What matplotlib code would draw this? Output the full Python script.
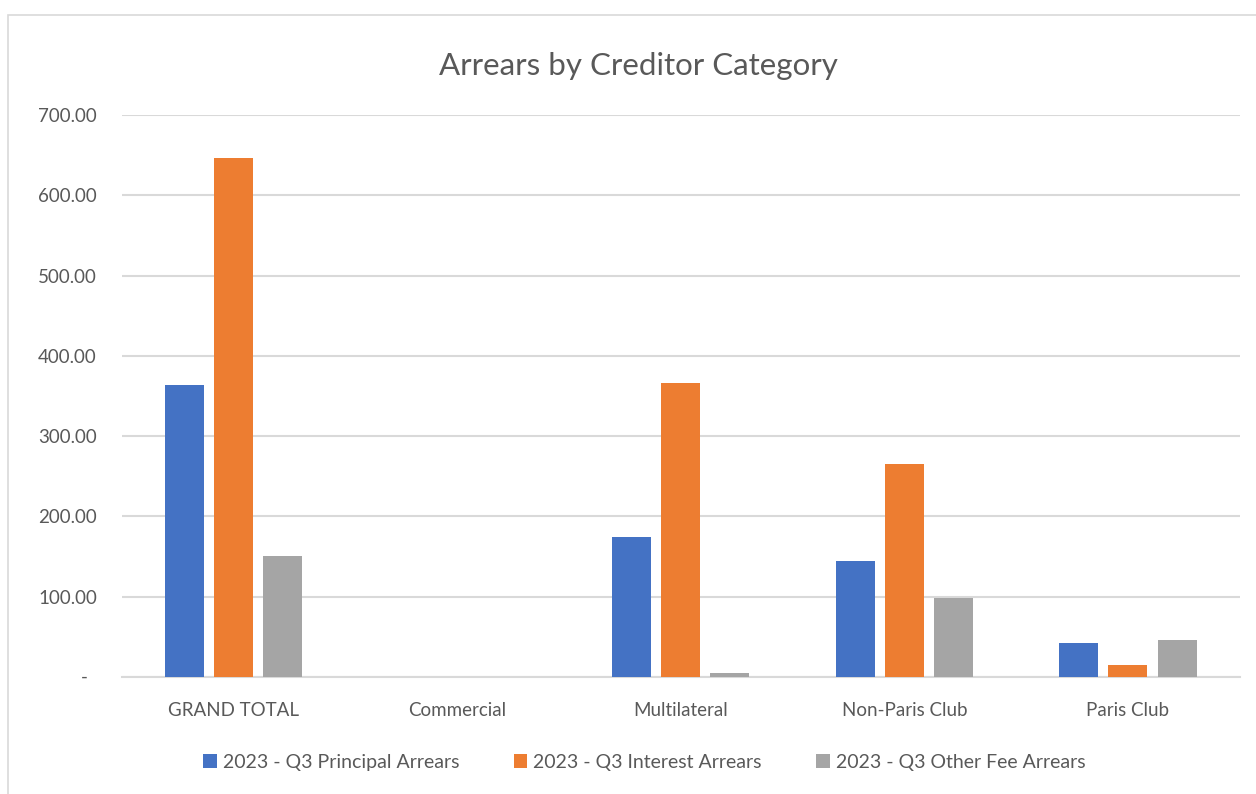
import matplotlib
matplotlib.use("Agg")
import matplotlib.pyplot as plt
import numpy as np
from matplotlib.patches import Rectangle

categories = ["GRAND TOTAL", "Commercial", "Multilateral", "Non-Paris Club", "Paris Club"]
series_names = ["2023 - Q3 Principal Arrears", "2023 - Q3 Interest Arrears", "2023 - Q3 Other Fee Arrears"]
principal = [364.0, 0.0, 174.5, 145.0, 42.5]
interest = [646.0, 0.0, 366.0, 265.0, 15.5]
other_fee = [151.0, 0.0, 5.5, 99.0, 45.5]
colors = ["#4472C4", "#ED7D31", "#A5A5A5"]
yticks = [0, 100, 200, 300, 400, 500, 600, 700]
ytick_labels = ["", "100.00", "200.00", "300.00", "400.00", "500.00", "600.00", "700.00"]
zero_label = "-"

plt.rcParams['font.family'] = ['Lato', 'DejaVu Sans']

fig = plt.figure(figsize=(12.56, 7.94), dpi=100)
ax = fig.add_axes([0.097, 0.1474, 0.890, 0.7076])

x = np.arange(len(categories))
width = 0.175
offsets = [-0.22, 0.0, 0.22]
for vals, off, col, name in zip([principal, interest, other_fee], offsets, colors, series_names):
    ax.bar(x + off, vals, width, color=col, label=name, zorder=3)

ax.set_xlim(-0.5, len(categories) - 0.5)
ax.set_ylim(0, 700)
ax.set_yticks(yticks)
ax.set_yticklabels(ytick_labels)
ax.set_xticks(x)
ax.set_xticklabels(categories)
ax.grid(axis='y', color='#D9D9D9', linewidth=1.5, zorder=0)
for s in ['top', 'right', 'left']:
    ax.spines[s].set_visible(False)
ax.spines['bottom'].set_color('#D9D9D9')
ax.spines['bottom'].set_linewidth(1.5)
ax.tick_params(axis='both', length=0, labelsize=13.5, colors='#595959')
ax.tick_params(axis='y', pad=18)
ax.tick_params(axis='x', pad=18)

ax.annotate(zero_label, xy=(0, 0), xycoords=('axes fraction', 'data'),
            xytext=(-27, 0), textcoords='offset points', ha='center', va='center',
            fontsize=13.5, color='#595959')

fig.text(0.508, 0.9055, "Arrears by Creditor Category", ha='center', va='baseline',
         fontsize=22.5, color='#595959')

leg = fig.legend(loc='center', bbox_to_anchor=(0.513, 0.04), ncol=3, frameon=False,
                 fontsize=14, handlelength=0.7, handleheight=0.7, handletextpad=0.3,
                 columnspacing=2.8)
for t in leg.get_texts():
    t.set_color('#595959')

fig.patches.append(Rectangle((8 / 1256, -0.01), 1.1, 1 - 15 / 794 + 0.01,
                             transform=fig.transFigure, fill=False,
                             edgecolor='#D9D9D9', linewidth=1.2))

fig.savefig("out.png", dpi=100)
